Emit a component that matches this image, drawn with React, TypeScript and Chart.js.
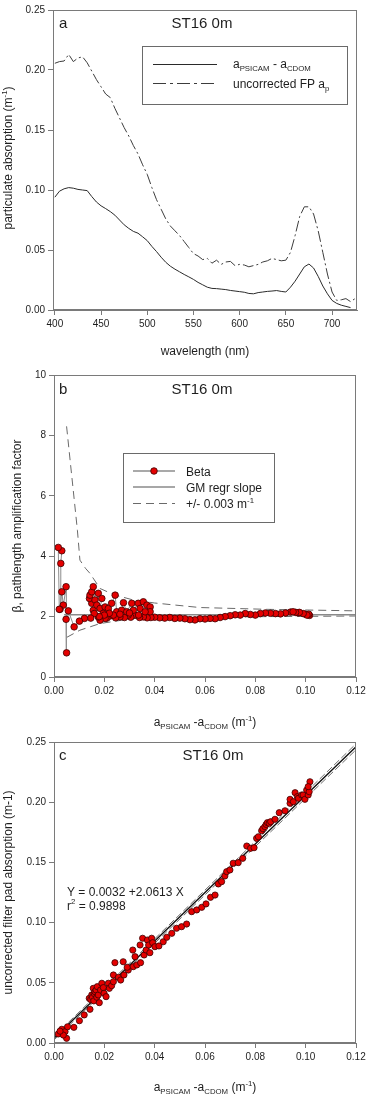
import React, { useEffect, useRef } from 'react';
import { Chart, registerables } from 'chart.js';
Chart.register(...registerables);

const FONT = '"Liberation Sans", Arial, Helvetica, sans-serif';
const TEXT = '#1e1e1e';
const AXIS = '#7a7a7a';

// ---------- Panel a : spectra ----------
const wavelengths = [400,405,410,415,420,425,430,435,440,445,450,455,460,465,470,475,480,485,490,495,500,505,510,515,520,525,530,535,540,545,550,555,560,565,570,575,580,585,590,595,600,605,610,615,620,625,630,635,640,645,650,655,660,665,670,675,680,685,690,695,700,705,710,715,720,725];
const aPsicamMinusCdom = [0.094,0.099,0.101,0.102,0.1015,0.1005,0.100,0.0995,0.0945,0.090,0.0868,0.0845,0.082,0.079,0.075,0.071,0.068,0.0655,0.064,0.061,0.0578,0.053,0.0487,0.044,0.0398,0.0365,0.034,0.0318,0.0296,0.0276,0.0255,0.023,0.021,0.019,0.018,0.0178,0.0174,0.017,0.0163,0.0158,0.0153,0.0148,0.0138,0.0135,0.0145,0.015,0.0155,0.0158,0.0162,0.0155,0.015,0.019,0.024,0.030,0.036,0.0383,0.035,0.028,0.020,0.0135,0.008,0.0055,0.004,0.003,0.002,null];
const uncorrectedFP = [0.2056,0.207,0.2075,0.213,0.207,0.210,0.211,0.206,0.199,0.192,0.186,0.180,0.177,0.168,0.160,0.152,0.145,0.137,0.130,0.121,0.113,0.102,0.092,0.084,0.076,0.070,0.066,0.062,0.057,0.052,0.047,0.045,0.042,0.043,0.039,0.0415,0.038,0.040,0.0405,0.037,0.038,0.0375,0.036,0.037,0.038,0.040,0.041,0.043,0.042,0.041,0.0415,0.048,0.062,0.078,0.086,0.086,0.080,0.066,0.048,0.030,0.015,0.008,0.0085,0.0095,0.007,0.0095];
const aXTicks = [400,450,500,550,600,650,700];
const aYTicks = [0,0.05,0.10,0.15,0.20,0.25];

// ---------- Panel b : beta ----------
const betaX = [0.0940,0.0970,0.1000,0.1015,0.1012,0.1005,0.0990,0.0975,0.0960,0.0950,0.0920,0.0900,0.0880,0.0860,0.0840,0.0820,0.0800,0.0780,0.0760,0.0740,0.0720,0.0700,0.0680,0.0660,0.0640,0.0620,0.0600,0.0580,0.0560,0.0540,0.0520,0.0500,0.0480,0.0460,0.0440,0.0420,0.0400,0.0385,0.0370,0.0355,0.0340,0.0322,0.0305,0.0295,0.0280,0.0262,0.0245,0.0223,0.0210,0.0203,0.0183,0.0176,0.0156,0.0150,0.0141,0.0143,0.0150,0.0156,0.0163,0.0170,0.0176,0.0190,0.0183,0.0196,0.0203,0.0216,0.0229,0.0243,0.0249,0.0269,0.0276,0.0289,0.0309,0.0315,0.0335,0.0342,0.0355,0.0369,0.0382,0.0382,0.0362,0.0336,0.0300,0.0262,0.0236,0.0220,0.0200,0.0180,0.0160,0.0146,0.0121,0.0101,0.0080,0.0057,0.0048,0.0050,0.0048,0.0037,0.0031,0.0024,0.0027,0.0031,0.0017,0.0021];
const betaY = [2.15,2.12,2.08,2.04,2.08,2.05,2.10,2.14,2.14,2.16,2.12,2.09,2.10,2.11,2.12,2.10,2.05,2.07,2.10,2.05,2.06,2.03,2.00,1.97,1.93,1.94,1.92,1.93,1.89,1.90,1.93,1.95,1.94,1.97,1.95,1.96,1.98,1.97,1.96,1.99,1.97,2.05,1.98,2.05,1.97,1.99,1.96,2.02,1.95,1.94,1.88,1.99,2.21,2.44,2.60,2.71,2.82,2.99,2.55,2.38,2.77,2.60,2.27,2.11,2.32,2.27,2.44,2.71,2.16,2.21,2.46,2.16,2.44,2.21,2.44,2.27,2.49,2.38,2.32,2.16,2.16,2.05,2.12,2.08,2.05,2.11,2.05,2.00,2.10,1.95,1.94,1.85,1.66,2.19,1.91,0.80,2.99,2.38,2.82,2.24,3.76,4.18,4.29,2.24];
const gmX = [0.004,0.12];
const gmY = [2.06,2.06];
const upperX = [0.0050,0.0093,0.0103,0.0125,0.0143,0.0183,0.0240,0.0315,0.0400,0.0580,0.0850,0.1200];
const upperY = [8.30,4.86,3.87,3.60,3.43,2.93,2.72,2.55,2.45,2.30,2.24,2.19];
const lowerX = [0.0050,0.0103,0.0183,0.0315,0.0580,0.0850,0.1200];
const lowerY = [1.31,1.55,1.77,1.94,1.98,2.00,2.02];
const bXTicks = [0,0.02,0.04,0.06,0.08,0.10,0.12];
const bYTicks = [0,2,4,6,8,10];

// ---------- Panel c : regression ----------
const cX = [0.0017,0.0031,0.0044,0.0050,0.0054,0.0037,0.0024,0.0079,0.0101,0.0120,0.0143,0.0140,0.0146,0.0150,0.0153,0.0156,0.0158,0.0160,0.0163,0.0167,0.0170,0.0172,0.0176,0.0180,0.0185,0.0190,0.0196,0.0199,0.0207,0.0216,0.0220,0.0229,0.0236,0.0242,0.0236,0.0256,0.0265,0.0275,0.0278,0.0295,0.0291,0.0313,0.0315,0.0322,0.0329,0.0342,0.0344,0.0352,0.0358,0.0366,0.0371,0.0376,0.0388,0.0392,0.0381,0.0401,0.0417,0.0434,0.0448,0.0468,0.0487,0.0507,0.0527,0.0547,0.0567,0.0587,0.0604,0.0622,0.0640,0.0653,0.0666,0.0679,0.0686,0.0699,0.0712,0.0732,0.0750,0.0766,0.0781,0.0795,0.0805,0.0812,0.0825,0.0830,0.0838,0.0843,0.0848,0.0855,0.0861,0.0878,0.0895,0.0918,0.0938,0.0938,0.0951,0.0958,0.0967,0.0971,0.0984,0.0990,0.0997,0.1004,0.1010,0.1014,0.1017,0.1010];
const cY = [0.0075,0.0114,0.0094,0.0039,0.0135,0.0066,0.0098,0.0130,0.0185,0.0233,0.0280,0.0371,0.0360,0.0399,0.0380,0.0454,0.0350,0.0410,0.0426,0.0440,0.0380,0.0468,0.0399,0.0335,0.0440,0.0496,0.0460,0.0413,0.0385,0.0496,0.0454,0.0476,0.0509,0.0667,0.0565,0.0546,0.0523,0.0675,0.0565,0.0606,0.0629,0.0772,0.0634,0.0717,0.0648,0.0814,0.0667,0.0870,0.0731,0.0772,0.0855,0.0814,0.0870,0.0833,0.0750,0.0800,0.0806,0.0841,0.0878,0.0911,0.0953,0.0966,0.0988,0.1091,0.1105,0.1127,0.1155,0.1210,0.1229,0.1321,0.1340,0.1387,0.1423,0.1437,0.1493,0.1498,0.1534,0.1636,0.1617,0.1622,0.1700,0.1713,0.1763,0.1780,0.1797,0.1815,0.1830,0.1825,0.1838,0.1858,0.1913,0.1929,0.1991,0.2024,0.2004,0.2079,0.2046,0.2032,0.2060,0.2060,0.2024,0.2101,0.2060,0.2087,0.2170,0.2129];
const regX = [0,0.12];
const regY = [0.004,0.246];
const regUpperY = [0.0055,0.2485];
const regLowerY = [0.0025,0.2435];
const cXTicks = [0,0.02,0.04,0.06,0.08,0.10,0.12];
const cYTicks = [0,0.05,0.10,0.15,0.20,0.25];

const panelLetters = ['a','b','c'];
const panelTitle = 'ST16 0m';

type Seg = { t: string; k?: 'sub' | 'sup' };
const psicamTitle: Seg[] = [{ t: 'a' }, { t: 'PSICAM', k: 'sub' }, { t: ' -a' }, { t: 'CDOM', k: 'sub' }, { t: ' (m' }, { t: '-1', k: 'sup' }, { t: ')' }];
const aYTitle: Seg[] = [{ t: 'particulate absorption (m' }, { t: '-1', k: 'sup' }, { t: ')' }];
const aLegend1: Seg[] = [{ t: 'a' }, { t: 'PSICAM', k: 'sub' }, { t: ' - a' }, { t: 'CDOM', k: 'sub' }];
const aLegend2: Seg[] = [{ t: 'uncorrected FP a' }, { t: 'p', k: 'sub' }];
const bLegend: Seg[][] = [[{ t: 'Beta' }], [{ t: 'GM regr slope' }], [{ t: '+/- 0.003 m' }, { t: '-1', k: 'sup' }]];
const cEq1: Seg[] = [{ t: 'Y = 0.0032 +2.0613 X' }];
const cEq2: Seg[] = [{ t: 'r' }, { t: '2', k: 'sup' }, { t: ' = 0.9898' }];

function segFont(size: number, k?: string) {
  return `${k ? (size * 0.65).toFixed(1) : size}px ${FONT}`;
}
function richWidth(ctx: CanvasRenderingContext2D, segs: Seg[], size: number) {
  let w = 0;
  for (const s of segs) { ctx.font = segFont(size, s.k); w += ctx.measureText(s.t).width; }
  return w;
}
function drawRich(ctx: CanvasRenderingContext2D, segs: Seg[], x: number, y: number, size: number, align: 'left' | 'center' = 'left') {
  const w = richWidth(ctx, segs, size);
  let cx = align === 'center' ? x - w / 2 : x;
  ctx.textAlign = 'left';
  ctx.textBaseline = 'alphabetic';
  ctx.fillStyle = TEXT;
  for (const s of segs) {
    ctx.font = segFont(size, s.k);
    const dy = s.k === 'sub' ? size * 0.28 : s.k === 'sup' ? -size * 0.42 : 0;
    ctx.fillText(s.t, cx, y + dy);
    cx += ctx.measureText(s.t).width;
  }
}
function frame(chart: any) {
  const { ctx, chartArea: a } = chart;
  ctx.save();
  ctx.strokeStyle = AXIS;
  ctx.lineWidth = 1;
  ctx.strokeRect(Math.round(a.left) + 0.5, Math.round(a.top) + 0.5, Math.round(a.right - a.left) - 1, Math.round(a.bottom - a.top) - 1);
  ctx.restore();
}
function titleText(ctx: CanvasRenderingContext2D, letter: string, lx: number, tx: number, y: number) {
  ctx.font = `15px ${FONT}`;
  ctx.fillStyle = TEXT;
  ctx.textBaseline = 'alphabetic';
  ctx.textAlign = 'left';
  ctx.fillText(letter, lx, y);
  ctx.textAlign = 'center';
  ctx.fillText(panelTitle, tx, y);
}
function legendBox(ctx: CanvasRenderingContext2D, x: number, y: number, w: number, h: number) {
  ctx.fillStyle = '#fff';
  ctx.fillRect(x, y, w, h);
  ctx.strokeStyle = '#6a6a6a';
  ctx.lineWidth = 1;
  ctx.setLineDash([]);
  ctx.strokeRect(x + 0.5, y + 0.5, w, h);
}
function sample(ctx: CanvasRenderingContext2D, x1: number, x2: number, y: number, color: string, width: number, dash: number[]) {
  ctx.beginPath();
  ctx.strokeStyle = color;
  ctx.lineWidth = width;
  ctx.setLineDash(dash);
  ctx.moveTo(x1, y);
  ctx.lineTo(x2, y);
  ctx.stroke();
  ctx.setLineDash([]);
}

function axis(min: number, max: number, ticks: number[], fmt: (v: number) => string, fit: (s: any) => void, title?: any) {
  return {
    type: 'linear',
    min, max,
    afterBuildTicks: (s: any) => { s.ticks = ticks.map((v) => ({ value: v })); },
    afterFit: (s: any) => { fit(s); s.paddingLeft = 0; s.paddingRight = 0; s.paddingTop = 0; s.paddingBottom = 0; },
    ticks: { callback: (v: any) => fmt(Number(v)), font: { family: FONT, size: 10 }, color: TEXT, padding: 3, maxRotation: 0, autoSkip: false },
    grid: { drawOnChartArea: false, drawTicks: true, tickLength: 5, color: AXIS },
    border: { display: true, color: AXIS },
    title: title || { display: false },
  };
}
const pts = (xs: number[], ys: (number | null)[]) => xs.map((x, i) => ({ x, y: ys[i] }));
const lineDs = (data: any[], color: string, width: number, dash: number[] = []) => ({
  data, showLine: true, borderColor: color, borderWidth: width, borderDash: dash, pointRadius: 0, fill: false, tension: 0,
});
const baseOpts = {
  responsive: false,
  animation: false,
  devicePixelRatio: 1,
  events: [],
  plugins: { legend: { display: false }, tooltip: { enabled: false } },
};

function cfgA(): any {
  const H = 362, T = 10, bottom = 310;
  return {
    type: 'scatter',
    data: {
      datasets: [
        lineDs(pts(wavelengths, aPsicamMinusCdom), '#2a2a2a', 1),
        lineDs(pts(wavelengths, uncorrectedFP), '#3c3c3c', 1, [11, 3, 2, 3]),
      ],
    },
    options: {
      ...baseOpts,
      layout: { padding: { top: T, right: 9, left: 0, bottom: 0 } },
      scales: {
        x: axis(398, 727, aXTicks, (v) => String(v), (s) => { s.height = H - bottom; }, {
          display: true, text: 'wavelength (nm)', color: TEXT, font: { family: FONT, size: 12 }, padding: { top: 0, bottom: 3 },
        }),
        y: axis(0, 0.25, aYTicks, (v) => v.toFixed(2), (s) => { s.width = 53; }),
      },
    },
    plugins: [{
      id: 'decorA',
      afterDraw(chart: any) {
        const ctx = chart.ctx;
        frame(chart);
        ctx.save();
        titleText(ctx, panelLetters[0], 59, 202, 27.5);
        legendBox(ctx, 142, 46, 205, 58);
        sample(ctx, 153, 217, 64.5, '#2a2a2a', 1, []);
        sample(ctx, 153, 217, 83.5, '#3c3c3c', 1, [13, 4, 3, 4]);
        drawRich(ctx, aLegend1, 233, 68, 12);
        drawRich(ctx, aLegend2, 233, 87.5, 12);
        ctx.translate(8, 158);
        ctx.rotate(-Math.PI / 2);
        drawRich(ctx, aYTitle, 0, 4, 12, 'center');
        ctx.restore();
      },
    }],
  };
}

function cfgB(): any {
  const H = 368, T = 13, bottom = 315;
  return {
    type: 'scatter',
    data: {
      datasets: [
        {
          data: pts(betaX, betaY), showLine: true, borderColor: '#8c8c8c', borderWidth: 1,
          pointRadius: 3.3, pointBackgroundColor: '#e40000', pointBorderColor: '#3c0000', pointBorderWidth: 0.8,
        },
        lineDs(pts(gmX, gmY), '#8a8a8a', 1.5),
        lineDs(pts(upperX, upperY), '#6a6a6a', 1, [8, 5]),
        lineDs(pts(lowerX, lowerY), '#6a6a6a', 1, [8, 5]),
      ],
    },
    options: {
      ...baseOpts,
      layout: { padding: { top: T, right: 10, left: 0, bottom: 0 } },
      scales: {
        x: axis(0, 0.12, bXTicks, (v) => v.toFixed(2), (s) => { s.height = H - bottom; }),
        y: axis(0, 10, bYTicks, (v) => String(v), (s) => { s.width = 54; }, {
          display: true, text: 'β, pathlength amplification factor', color: TEXT, font: { family: FONT, size: 12 }, padding: { top: 10, bottom: 0 },
        }),
      },
    },
    plugins: [{
      id: 'decorB',
      afterDraw(chart: any) {
        const ctx = chart.ctx;
        frame(chart);
        ctx.save();
        titleText(ctx, panelLetters[1], 59, 202, 31.5);
        legendBox(ctx, 123, 91, 151, 69);
        sample(ctx, 133, 175, 109, '#8c8c8c', 1.5, []);
        ctx.beginPath();
        ctx.arc(154, 109, 3.3, 0, Math.PI * 2);
        ctx.fillStyle = '#e40000';
        ctx.fill();
        ctx.strokeStyle = '#3c0000';
        ctx.lineWidth = 0.8;
        ctx.stroke();
        sample(ctx, 133, 175, 125, '#8a8a8a', 1.5, []);
        sample(ctx, 133, 175, 141.5, '#6a6a6a', 1, [8, 5]);
        drawRich(ctx, bLegend[0], 186, 114, 12);
        drawRich(ctx, bLegend[1], 186, 129.5, 12);
        drawRich(ctx, bLegend[2], 186, 146, 12);
        drawRich(ctx, psicamTitle, 205, 364, 12, 'center');
        ctx.restore();
      },
    }],
  };
}

function cfgC(): any {
  const H = 366, T = 12, bottom = 313;
  return {
    type: 'scatter',
    data: {
      datasets: [
        {
          data: pts(cX, cY), showLine: false,
          pointRadius: 3.1, pointBackgroundColor: '#e40000', pointBorderColor: '#3c0000', pointBorderWidth: 0.8,
        },
        lineDs(pts(regX, regY), '#111111', 1.3),
        lineDs(pts(regX, regUpperY), '#6e6e6e', 1, [7, 3]),
        lineDs(pts(regX, regLowerY), '#6e6e6e', 1, [7, 3]),
      ],
    },
    options: {
      ...baseOpts,
      layout: { padding: { top: T, right: 10, left: 0, bottom: 0 } },
      scales: {
        x: axis(0, 0.12, cXTicks, (v) => v.toFixed(2), (s) => { s.height = H - bottom; }),
        y: axis(0, 0.25, cYTicks, (v) => v.toFixed(2), (s) => { s.width = 54; }, {
          display: true, text: 'uncorrected filter pad absorption (m-1)', color: TEXT, font: { family: FONT, size: 12 }, padding: { top: 1, bottom: 0 },
        }),
      },
    },
    plugins: [{
      id: 'decorC',
      afterDraw(chart: any) {
        const ctx = chart.ctx;
        frame(chart);
        ctx.save();
        titleText(ctx, panelLetters[2], 59, 213, 30);
        drawRich(ctx, cEq1, 67, 165.5, 12);
        drawRich(ctx, cEq2, 67, 179.5, 12);
        drawRich(ctx, psicamTitle, 205, 361, 12, 'center');
        ctx.restore();
      },
    }],
  };
}

export default function App() {
  const refA = useRef<HTMLCanvasElement>(null);
  const refB = useRef<HTMLCanvasElement>(null);
  const refC = useRef<HTMLCanvasElement>(null);
  useEffect(() => {
    const charts = [
      new Chart(refA.current!, cfgA()),
      new Chart(refB.current!, cfgB()),
      new Chart(refC.current!, cfgC()),
    ];
    return () => charts.forEach((c) => c.destroy());
  }, []);
  const cs = (top: number, h: number): React.CSSProperties => ({ position: 'absolute', left: 0, top, width: 366, height: h, display: 'block' });
  return (
    <div style={{ position: 'absolute', left: 0, top: 0, width: 366, height: 1096, background: '#fff', overflow: 'hidden' }}>
      <canvas ref={refA} width={366} height={362} style={cs(0, 362)} />
      <canvas ref={refB} width={366} height={368} style={cs(362, 368)} />
      <canvas ref={refC} width={366} height={366} style={cs(730, 366)} />
    </div>
  );
}
